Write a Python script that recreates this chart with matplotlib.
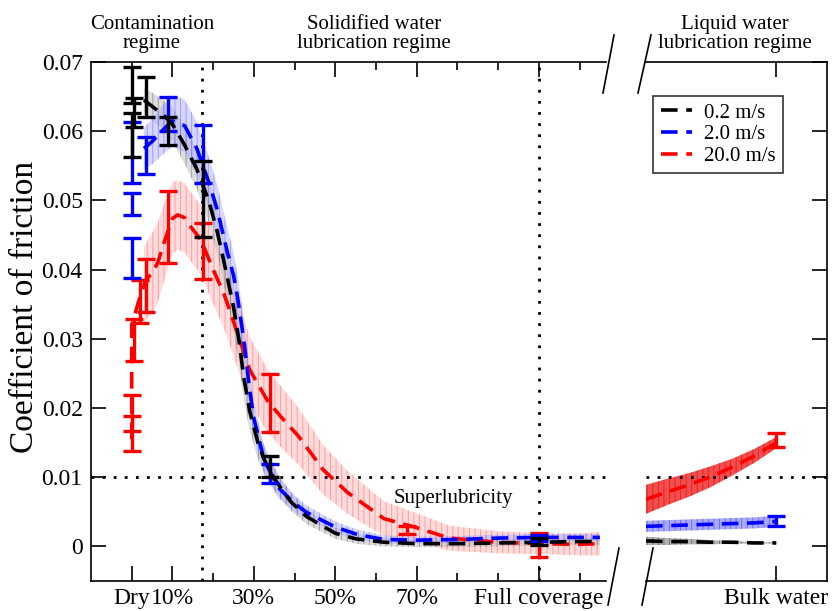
import numpy as np
import matplotlib
matplotlib.use('Agg')
import matplotlib.pyplot as plt
from matplotlib.lines import Line2D

plt.rcParams['font.family'] = ['Liberation Serif', 'DejaVu Serif']
plt.rcParams['hatch.linewidth'] = 0.7

# coverage axis: Dry = 0, Full coverage = 1
xtick_pos = [0.0, 0.1, 0.3, 0.5, 0.7, 1.0]
xtick_lab = ['Dry', '10%', '30%', '50%', '70%', 'Full coverage']
xminor_pos = [0.2, 0.4, 0.6, 0.8, 0.9, 1.1]
ytick_pos = [0.0, 0.01, 0.02, 0.03, 0.04, 0.05, 0.06, 0.07]
ytick_lab = ['0', '0.01', '0.02', '0.03', '0.04', '0.05', '0.06', '0.07']
speeds = ['0.2 m/s', '2.0 m/s', '20.0 m/s']

# fitted curves, left panel (mean and half width of band)
blk_x = [0.03, 0.05, 0.08, 0.10, 0.13, 0.16, 0.19, 0.21, 0.23, 0.25, 0.263, 0.275, 0.29, 0.31,
         0.325, 0.35, 0.39, 0.43, 0.47, 0.50, 0.55, 0.62, 0.70, 0.80, 0.90, 1.00, 1.10, 1.15]
blk_y = [0.0645, 0.0636, 0.0622, 0.0610, 0.0580, 0.0545, 0.0498, 0.0455, 0.0402, 0.0346, 0.0300,
         0.0245, 0.0195, 0.0150, 0.0126, 0.0098, 0.0065, 0.0043, 0.0029, 0.0019, 0.0011, 0.0006,
         0.0004, 0.0004, 0.0005, 0.0006, 0.0007, 0.0007]
blk_e = [0.0018, 0.0020, 0.0022, 0.0025, 0.0027, 0.0029, 0.0031, 0.0033, 0.0034, 0.0034, 0.0033,
         0.0031, 0.0028, 0.0024, 0.0021, 0.0017, 0.0013, 0.0011, 0.0009, 0.0008, 0.0007, 0.0006,
         0.0005, 0.0005, 0.0005, 0.0005, 0.0005, 0.0005]

blu_x = [0.03, 0.05, 0.07, 0.10, 0.13, 0.16, 0.19, 0.21, 0.235, 0.25, 0.26, 0.275, 0.29, 0.30,
         0.325, 0.36, 0.40, 0.43, 0.50, 0.555, 0.62, 0.70, 0.80, 0.90, 1.00, 1.10, 1.15]
blu_y = [0.0575, 0.0585, 0.0598, 0.0615, 0.0608, 0.0575, 0.0525, 0.0487, 0.0425, 0.0392, 0.0360,
         0.0300, 0.0225, 0.0185, 0.0125, 0.0085, 0.0062, 0.0049, 0.0028, 0.0017, 0.0010, 0.0009,
         0.0010, 0.0012, 0.0013, 0.0013, 0.0013]
blu_e = [0.0030, 0.0033, 0.0035, 0.0037, 0.0038, 0.0038, 0.0037, 0.0036, 0.0035, 0.0034, 0.0033,
         0.0031, 0.0027, 0.0024, 0.0019, 0.0015, 0.0012, 0.0010, 0.0008, 0.0007, 0.0006, 0.0005,
         0.0005, 0.0005, 0.0005, 0.0005, 0.0005]

red_x = [0.0, 0.0, 0.0, 0.01, 0.02, 0.035, 0.05, 0.064, 0.08, 0.10, 0.113, 0.13, 0.145, 0.17,
         0.20, 0.226, 0.25, 0.29, 0.334, 0.37, 0.41, 0.47, 0.53, 0.62, 0.70, 0.78, 0.90, 1.00,
         1.10, 1.15]
red_y = [0.0155, 0.0240, 0.0320, 0.0340, 0.0360, 0.0385, 0.0395, 0.0410, 0.0440, 0.0474, 0.0479,
         0.0475, 0.0462, 0.0443, 0.0400, 0.0366, 0.0325, 0.0255, 0.0210, 0.0185, 0.0159, 0.0111,
         0.0078, 0.0040, 0.0027, 0.0012, 0.0006, 0.0004, 0.0003, 0.0004]
red_bx = [0.03, 0.05, 0.064, 0.08, 0.10, 0.113, 0.13, 0.145, 0.17, 0.20, 0.226, 0.25, 0.29, 0.334,
          0.37, 0.41, 0.47, 0.53, 0.62, 0.70, 0.78, 0.90, 1.00, 1.10, 1.15]
red_by = [0.0378, 0.0395, 0.0410, 0.0440, 0.0474, 0.0479, 0.0475, 0.0462, 0.0443, 0.0400, 0.0366,
          0.0325, 0.0255, 0.0210, 0.0185, 0.0159, 0.0111, 0.0078, 0.0040, 0.0027, 0.0012, 0.0006,
          0.0004, 0.0003, 0.0004]
red_be = [0.0055, 0.0058, 0.0058, 0.0056, 0.0052, 0.0050, 0.0050, 0.0050, 0.0050, 0.0050, 0.0050,
          0.0050, 0.0048, 0.0046, 0.0044, 0.0041, 0.0036, 0.0031, 0.0025, 0.0021, 0.0018, 0.0016,
          0.0015, 0.0016, 0.0017]

# measured points with error bars, left panel
blk_px = [0.0, 0.005, 0.0, 0.035, 0.09, 0.175, 0.34, 1.0]
blk_py = [0.0667, 0.0627, 0.0595, 0.0649, 0.0600, 0.0502, 0.0116, 0.0007]
blk_pe = [0.0026, 0.0021, 0.0032, 0.0029, 0.0020, 0.0055, 0.0015, 0.0005]

blu_px = [0.0, 0.0, 0.0, 0.035, 0.09, 0.175, 0.34, 1.0]
blu_py = [0.0569, 0.0495, 0.0417, 0.0565, 0.0625, 0.0567, 0.0105, 0.0012]
blu_pe = [0.0044, 0.0016, 0.0029, 0.0027, 0.0025, 0.0042, 0.0014, 0.0004]

red_px = [0.0, 0.0, 0.005, 0.02, 0.035, 0.09, 0.175, 0.34, 0.675, 1.0]
red_py = [0.0193, 0.0163, 0.0298, 0.0354, 0.0377, 0.0462, 0.0427, 0.0207, 0.00235, 0.00015]
red_pe = [0.0026, 0.0025, 0.0030, 0.0031, 0.0038, 0.0052, 0.0040, 0.0042, 0.0006, 0.00175]

# right panel: liquid water
bulk_x = [0.0, 0.12, 0.24, 0.36, 0.48, 0.60, 0.72]
blk_r = [0.0008, 0.0007, 0.0007, 0.0006, 0.0006, 0.0005, 0.0005]
blk_re = [0.0006, 0.0005, 0.0004, 0.0003, 0.0002, 0.0001, 0.0001]
blu_r = [0.0029, 0.0030, 0.0031, 0.0032, 0.0033, 0.0034, 0.0036]
blu_re = [0.0008, 0.0008, 0.0008, 0.0008, 0.0008, 0.0008, 0.0008]
red_r = [0.0068, 0.0079, 0.0089, 0.0101, 0.0115, 0.0131, 0.0150]
red_re = [0.0021, 0.0019, 0.0017, 0.0015, 0.0012, 0.0010, 0.0008]
bulk_px = [0.72, 0.72]
bulk_py = [0.00365, 0.01535]
bulk_pe = [0.00075, 0.00105]

dash = (0, (4.6, 2.4))
dot = (0, (1, 3))
lw = 2.6

fig = plt.figure(figsize=(8.32, 6.11), dpi=100)
ax1 = fig.add_axes([91/832, 1-581/611, 515/832, 519/611])
ax2 = fig.add_axes([646/832, 1-581/611, 181/832, 519/611])


def band(ax, x, y, e, face, hatch, alpha=0.45):
    y = np.array(y)
    e = np.array(e)
    ax.fill_between(x, y-e, y+e, facecolor=face, alpha=alpha, linewidth=0, zorder=1)
    ax.fill_between(x, y-e, y+e, facecolor='none', edgecolor=hatch, hatch='|||',
                    linewidth=0, alpha=0.5, zorder=1)


# left panel
band(ax1, red_bx, red_by, red_be, '#ffb0b0', '#ff6060')
band(ax1, blk_x, blk_y, blk_e, '#b4b4b4', '#606060')
band(ax1, blu_x, blu_y, blu_e, '#a8a8ff', '#6666ff')

ax1.plot(red_x, red_y, color='red', lw=lw, ls=dash, zorder=3)
ax1.plot(blu_x, blu_y, color='blue', lw=lw, ls=dash, zorder=3)
ax1.plot(blk_x, blk_y, color='black', lw=lw, ls=dash, zorder=3)

for px, py, pe, c in [(red_px, red_py, red_pe, 'red'), (blu_px, blu_py, blu_pe, 'blue'),
                      (blk_px, blk_py, blk_pe, 'black')]:
    ax1.errorbar(px, py, yerr=pe, fmt='none', ecolor=c, elinewidth=2.4, capsize=6.5,
                 capthick=2.4, zorder=4)

ax1.axhline(0.01, color='black', lw=2, ls=dot, dash_capstyle='butt', zorder=2)
ax1.axvline(0.172, color='black', lw=2, ls=dot, dash_capstyle='butt', zorder=2)
ax1.axvline(1.0, color='black', lw=2, ls=dot, dash_capstyle='butt', zorder=2)
ax1.text(0.79, 0.0069, 'Superlubricity', fontsize=15, ha='center', va='center')

ax1.set_xlim(-0.1, 1.165)
ax1.set_ylim(-0.005, 0.07)
ax1.set_xticks(xtick_pos)
ax1.set_xticklabels(xtick_lab)
ax1.set_xticks(xminor_pos, minor=True)
ax1.set_yticks(ytick_pos)
ax1.set_yticklabels(ytick_lab)
ax1.spines['right'].set_visible(False)
ax1.tick_params(which='both', direction='in', top=True, right=False, width=1.2, labelsize=17)
ax1.tick_params(axis='x', which='major', length=11, pad=5)
ax1.tick_params(axis='y', which='major', length=11, pad=6)
ax1.tick_params(which='minor', length=6)

# right panel
band(ax2, bulk_x, red_r, red_re, '#f02020', '#cc0000', alpha=0.8)
band(ax2, bulk_x, blu_r, blu_re, '#7070ff', '#3030ff', alpha=0.6)
band(ax2, bulk_x, blk_r, blk_re, '#808080', '#404040', alpha=0.6)
for yv, c, lab in [(blk_r, 'black', speeds[0]), (blu_r, 'blue', speeds[1]), (red_r, 'red', speeds[2])]:
    ax2.plot(bulk_x, yv, color=c, lw=lw, ls=dash, zorder=3, label=lab)
for bx, by, be, c in zip(bulk_px, bulk_py, bulk_pe, ['blue', 'red']):
    ax2.errorbar([bx], [by], yerr=[be], fmt='none', ecolor=c, elinewidth=2.4, capsize=6.5,
                 capthick=2.4, zorder=4)
ax2.axhline(0.01, color='black', lw=2, ls=dot, dash_capstyle='butt', zorder=2)

ax2.set_xlim(0, 1)
ax2.set_ylim(-0.005, 0.07)
ax2.set_xticks([0.72])
ax2.set_xticklabels(['Bulk water'])
ax2.set_yticks(ytick_pos)
ax2.yaxis.tick_right()
ax2.spines['left'].set_visible(False)
ax2.tick_params(direction='in', top=True, right=True, left=False, labelright=False,
                length=11, width=1.2, labelsize=17, pad=5)

leg = ax2.legend(loc='upper left', bbox_to_anchor=(0.04, 0.935), fontsize=15, frameon=True,
                 fancybox=False, handlelength=1.5, handletextpad=0.6, borderpad=0.35,
                 labelspacing=0.1, borderaxespad=0)
leg.get_frame().set_edgecolor('black')
leg.get_frame().set_linewidth(1.2)

for ax in (ax1, ax2):
    for s in ax.spines.values():
        s.set_linewidth(1.2)

# broken axis marks
for (x0, y0, x1, y1) in [(603, 93, 614, 35), (638, 93, 651, 35), (608, 605, 619, 548),
                         (642, 605, 653, 548)]:
    fig.add_artist(Line2D([x0/832, x1/832], [1-y0/611, 1-y1/611], color='black', lw=1.2,
                          transform=fig.transFigure))

# regime titles
fig.text(152/832, 1-34/611, 'Contamination\nregime', fontsize=15, ha='center', va='center',
         linespacing=1.05)
fig.text(374/832, 1-34/611, 'Solidified water\nlubrication regime', fontsize=15, ha='center',
         va='center', linespacing=1.05)
fig.text(735/832, 1-34/611, 'Liquid water\nlubrication regime', fontsize=15, ha='center',
         va='center', linespacing=1.05)
fig.text(25/832, 1-307/611, 'Coefficient of friction', fontsize=24, rotation=90, ha='center',
         va='center')

fig.savefig('out.png', dpi=100)
